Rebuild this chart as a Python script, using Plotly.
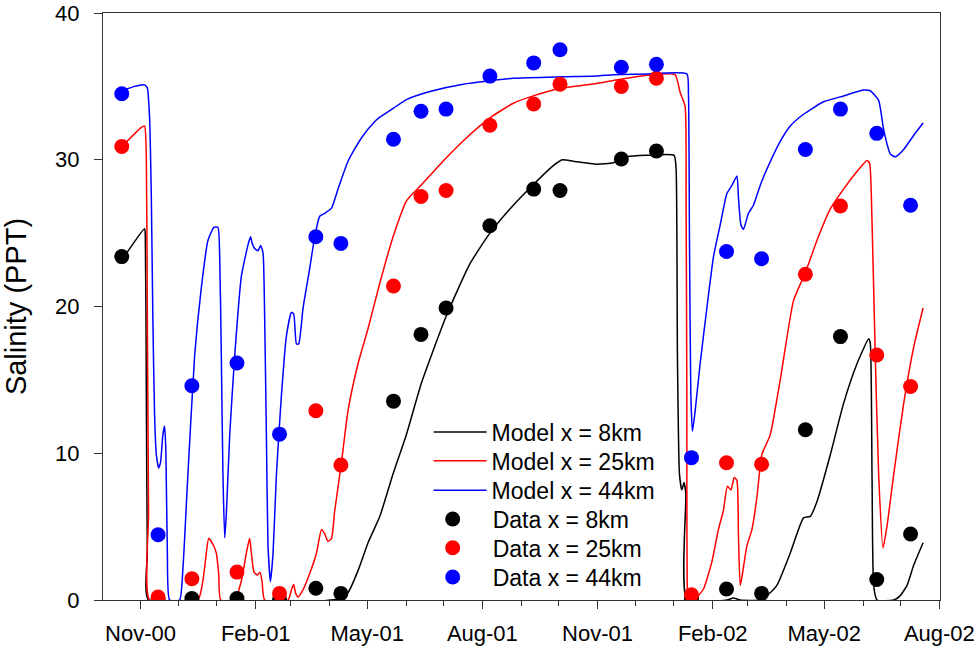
import pandas as pd
import plotly.graph_objects as go

# ---------------- data ----------------
sample_dates = ["2000-10-17", "2000-11-15", "2000-12-12", "2001-01-17", "2001-02-20",
                "2001-03-21", "2001-04-10", "2001-05-22", "2001-06-13", "2001-07-03",
                "2001-08-07", "2001-09-11", "2001-10-02", "2001-11-20", "2001-12-18",
                "2002-01-15", "2002-02-12", "2002-03-12", "2002-04-16", "2002-05-14",
                "2002-06-12", "2002-07-09"]
data_8km = [23.4, 0.05, 0.1, 0.1, 0.05, 0.8, 0.45, 13.55, 18.1, 19.9, 25.5, 28.0, 27.9,
            30.05, 30.6, 0.1, 0.75, 0.45, 11.6, 17.95, 1.4, 4.5]
data_25km = [30.9, 0.2, 1.45, 1.9, 0.45, 12.9, 9.2, 21.4, 27.5, 27.9, 32.35, 33.8, 35.15,
             35.0, 35.55, 0.35, 9.35, 9.25, 22.2, 26.85, 16.7, 14.55]
data_44km = [34.5, 4.45, 14.6, 16.15, 11.3, 24.75, 24.3, 31.4, 33.3, 33.45, 35.7, 36.6, 37.5,
             36.3, 36.5, 9.7, 23.75, 23.25, 30.7, 33.45, 31.8, 26.9]

# model output: days since 2000-11-01 and salinity
model_origin = "2000-11-01"
model8_day = [-11.4, 3.2, 3.8, 4.6, 5.4, 6.4, 160.5, 165.7, 173.7, 181.7, 191.1, 201.7, 212.4,
              224.4, 244.4, 263.0, 279.0, 297.7, 313.6, 329.6, 337.1, 345.6, 364.3, 377.6,
              388.3, 404.3, 426.1, 427.7, 428.8, 430.4, 432.3, 434.1, 435.5, 436.3, 468.3,
              473.5, 478.9, 494.9, 500.2, 508.2, 518.9, 529.5, 534.9, 540.2, 550.9, 561.5,
              572.2, 581.5, 582.8, 584.2, 585.5, 588.2, 601.5, 606.8, 612.2, 617.4, 625.0]
model8_sal = [23.6, 25.3, 24.8, 14.0, 3.2, 0.0, 0.1, 0.5, 2.0, 3.9, 5.7, 8.6, 11.3,
              14.8, 19.4, 22.9, 25.0, 26.9, 28.3, 29.6, 30.0, 29.9, 29.7, 29.8,
              30.2, 30.3, 30.3, 29.4, 16.6, 8.6, 7.5, 8.0, 7.2, 0.0, 0.0,
              0.13, 0.0, 0.0, 0.3, 1.0, 3.2, 5.6, 5.7, 6.7, 9.9, 13.4,
              16.1, 17.8, 17.5, 8.6, 1.0, 0.0, 0.0, 0.3, 1.0, 2.35, 3.9]

model25_day = [-11.4, 0.6, 3.2, 4.6, 5.4, 6.4, 7.2, 45.8, 49.8, 52.5, 54.4, 57.8, 60.5, 62.4,
               64.0, 75.2, 80.5, 84.5, 87.1, 88.5, 90.6, 93.3, 95.4, 97.0, 99.1, 117.8, 120.5,
               122.3, 123.9, 125.8, 129.8, 135.1, 140.5, 144.5, 147.1, 149.7, 152.5, 155.1,
               160.5, 165.7, 173.7, 181.7, 191.1, 201.7, 212.4, 224.4, 244.4, 260.4, 279.0,
               297.7, 313.6, 335.0, 364.3, 377.6, 404.3, 426.9, 430.9, 434.9, 435.7, 436.3,
               436.8, 437.6, 444.3, 449.6, 456.3, 461.5, 465.5, 468.7, 471.5, 474.1, 476.3,
               477.5, 478.9, 480.3, 484.3, 488.3, 492.2, 496.2, 502.9, 510.9, 521.5, 530.9,
               540.2, 550.9, 561.5, 572.2, 580.2, 582.3, 584.2, 586.8, 589.5, 593.0, 596.2,
               601.5, 609.5, 617.4, 625.0]
model25_sal = [31.2, 32.2, 32.3, 30.2, 19.4, 5.9, 0.0, 0.0, 1.3, 3.2, 4.2, 3.8, 3.2, 1.8,
               0.0, 0.0, 1.3, 3.2, 4.2, 3.2, 1.9, 1.7, 1.9, 1.3, 0.0, 0.0, 0.7,
               1.05, 0.45, 0.2, 0.7, 1.8, 3.2, 4.8, 4.5, 4.0, 4.2, 6.1,
               9.4, 12.9, 16.1, 18.5, 21.6, 24.75, 27.2, 28.3, 30.15, 31.5, 32.85,
               33.85, 34.35, 34.85, 35.2, 35.4, 35.75, 35.8, 34.6, 33.65, 27.45, 14.0,
               0.45, 0.0, 0.2, 0.75, 2.6, 4.8, 6.1, 7.75, 7.5, 8.35, 8.15,
               4.5, 1.0, 1.55, 3.7, 4.8, 6.95, 9.9, 11.25, 15.0, 20.4, 22.3,
               24.5, 26.65, 28.0, 29.2, 29.95, 29.75, 25.8, 16.65, 8.55, 3.55, 5.05,
               8.55, 13.4, 17.2, 19.9]

model44_day = [-11.4, -4.8, 3.2, 5.4, 7.2, 8.6, 9.8, 11.2, 12.6, 14.4, 16.0, 17.8, 19.2, 20.2,
               21.4, 23.2, 31.2, 33.8, 37.8, 43.2, 48.5, 53.8, 58.6, 61.8, 63.2, 64.5, 65.8,
               67.2, 68.5, 71.2, 75.2, 80.5, 85.8, 87.9, 89.0, 91.1, 93.8, 95.9, 97.8, 99.1,
               100.5, 101.8, 103.7, 105.8, 108.5, 112.5, 116.5, 120.5, 122.3, 124.5, 126.3,
               129.8, 135.1, 139.1, 143.1, 147.1, 152.5, 157.7, 165.7, 176.5, 187.1, 191.1,
               201.7, 212.4, 231.1, 257.7, 297.7, 337.6, 364.3, 377.6, 404.3, 436.3, 437.6,
               438.4, 439.5, 440.8, 442.9, 446.9, 452.3, 457.6, 462.9, 468.3, 472.3, 476.3,
               477.5, 479.5, 481.5, 485.5, 489.5, 494.9, 500.2, 510.9, 518.9, 529.5, 545.5,
               561.5, 577.5, 582.8, 589.5, 593.5, 598.8, 602.8, 609.5, 617.4, 625.0]
model44_sal = [34.8, 35.0, 35.1, 34.9, 32.85, 27.45, 19.35, 12.6, 9.9, 9.0, 9.4, 11.25, 11.85, 10.2,
               3.2, 0.0, 0.0, 2.1, 8.55, 16.65, 21.25, 24.5, 25.4, 25.4, 23.4, 16.65, 8.55,
               4.25, 5.85, 11.25, 16.65, 22.05, 24.2, 24.75, 24.35, 23.95, 23.8, 24.15, 23.65, 19.35,
               11.25, 3.7, 1.25, 3.15, 8.55, 13.95, 18.0, 19.6, 19.5, 17.45, 17.45,
               19.9, 22.6, 24.75, 26.15, 26.35, 26.7, 28.0, 29.9, 31.5, 32.6, 32.9,
               33.5, 34.1, 34.65, 35.15, 35.55, 35.65, 35.7, 35.8, 35.85, 35.85, 34.45,
               24.75, 13.95, 11.5, 12.85, 16.1, 19.9, 23.4, 25.55, 27.7, 28.25, 28.9,
               27.45, 25.55, 25.25, 26.35, 26.9, 28.25, 29.35, 31.25, 32.3, 33.1, 33.95,
               34.35, 34.75, 34.7, 34.05, 32.05, 30.4, 30.2, 30.7, 31.65, 32.5]

series_names_model = ["Model x = 8km", "Model x = 25km", "Model x = 44km"]
series_names_data = ["Data x = 8km", "Data x = 25km", "Data x = 44km"]
colors = ["#000000", "#FF0000", "#0000FF"]


def to_dates(days):
    return pd.Timestamp(model_origin) + pd.to_timedelta(days, unit="D")


FONT = "Liberation Sans, Arial, sans-serif"
legend_ids = ["legend", "legend2", "legend3", "legend4", "legend5", "legend6"]

fig = go.Figure()
i = 0
for name, d, s, c in zip(series_names_model,
                         [model8_day, model25_day, model44_day],
                         [model8_sal, model25_sal, model44_sal], colors):
    fig.add_trace(go.Scatter(x=to_dates(d), y=s, mode="lines", name=name, legend=legend_ids[i],
                             line=dict(color=c, width=1.5, shape="spline", smoothing=0.5)))
    i += 1
for name, vals, c in zip(series_names_data, [data_8km, data_25km, data_44km], colors):
    fig.add_trace(go.Scatter(x=pd.to_datetime(sample_dates), y=vals, mode="markers", name=name,
                             legend=legend_ids[i],
                             marker=dict(color=c, size=15, line=dict(width=0))))
    i += 1

# one legend box per entry so the row spacing can follow the original
row_y = [0.286, 0.237, 0.187, 0.138, 0.089, 0.039]
legend_layout = {}
for k, lid in enumerate(legend_ids):
    legend_layout[lid] = dict(
        x=0.389 if k < 3 else 0.370, y=row_y[k], xanchor="left", yanchor="middle",
        bgcolor="rgba(0,0,0,0)", borderwidth=0,
        itemwidth=53 if k < 3 else 70,
        font=dict(family=FONT, size=23, color="black"))

axis_color = "#333333"
fig.update_layout(
    width=979, height=652,
    margin=dict(l=103, r=39, t=13, b=52),
    paper_bgcolor="white", plot_bgcolor="white",
    font=dict(family=FONT, size=22, color="black"),
    showlegend=True,
    xaxis=dict(type="date", range=["2000-10-02", "2002-08-01 12:00"],
               tick0="2000-11-01", dtick="M3", tickformat="%b-%y",
               ticks="outside", ticklen=8, tickwidth=1, tickcolor=axis_color,
               ticklabelstandoff=6, automargin=False, ticklabeloverflow="allow",
               minor=dict(dtick="M1", tick0="2000-11-01", ticks="outside", ticklen=5,
                          tickcolor=axis_color, showgrid=False),
               showline=True, linecolor=axis_color, linewidth=1, mirror=True,
               showgrid=False, zeroline=False,
               tickfont=dict(family=FONT, size=22, color="black")),
    yaxis=dict(range=[0, 40], dtick=10, ticks="outside", ticklen=8, tickwidth=1,
               tickcolor=axis_color, showline=True, linecolor=axis_color, linewidth=1,
               mirror=True, showgrid=False, zeroline=False, automargin=False,
               ticklabelstandoff=10, ticklabeloverflow="allow",
               tickfont=dict(family=FONT, size=22, color="black"),
               title=dict(text="Salinity (PPT)", font=dict(family=FONT, size=29, color="black"),
                          standoff=21)),
    **legend_layout,
)

fig.write_html("out.html", config={"displayModeBar": False},
               post_script="document.body.style.margin='0px';")
